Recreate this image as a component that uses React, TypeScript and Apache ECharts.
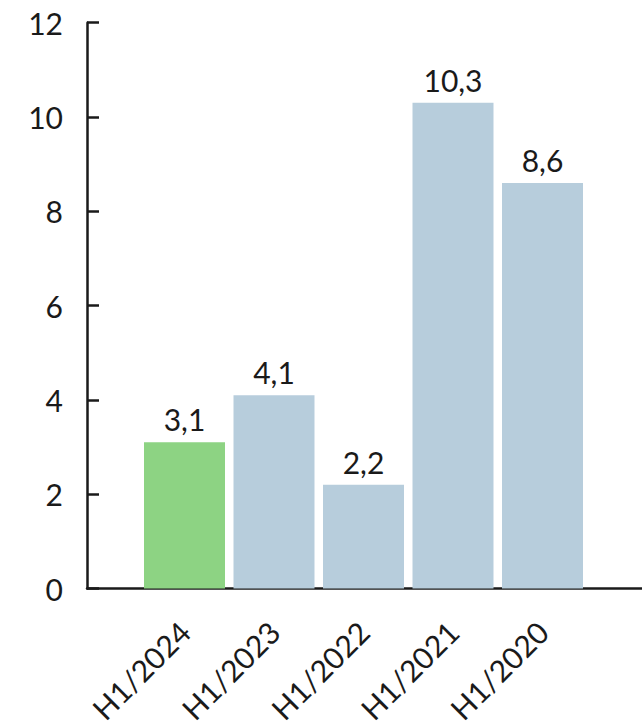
import React, { useEffect, useRef } from "react";
import * as echarts from "echarts";

// Half-year figures, newest first
const categories = ["H1/2024", "H1/2023", "H1/2022", "H1/2021", "H1/2020"];
const values = [3.1, 4.1, 2.2, 10.3, 8.6];
const barColors = ["#8dd383", "#b7cddc", "#b7cddc", "#b7cddc", "#b7cddc"];
const yTicks = { min: 0, max: 12, interval: 2 };

const FONT = "Lato, 'Noto Sans', sans-serif";
const INK = "#1a1a1a";

export default function App() {
  const ref = useRef<HTMLDivElement>(null);

  useEffect(() => {
    document.body.style.margin = "0";
    if (!ref.current) return;
    const chart = echarts.init(ref.current, null, { renderer: "svg" });

    const top = 22.7;
    const bottom = 138.5;

    chart.setOption({
      animation: false,
      backgroundColor: "#ffffff",
      grid: [
        // frame: y axis and the full-width baseline
        { left: 87, right: 0, top, bottom },
        // plotting area for the bars
        { left: 139.75, right: 54.75, top, bottom },
      ],
      xAxis: [
        {
          type: "value",
          gridIndex: 0,
          min: 0,
          max: 1,
          axisLine: { show: true, onZero: true, lineStyle: { color: INK, width: 2.5 } },
          axisTick: { show: false },
          axisLabel: { show: false },
          splitLine: { show: false },
        },
        {
          type: "category",
          gridIndex: 1,
          data: categories,
          axisLine: { show: false },
          axisTick: { show: false },
          axisLabel: {
            rotate: 45,
            margin: 38,
            fontSize: 30,
            fontFamily: FONT,
            color: INK,
            interval: 0,
          },
        },
      ],
      yAxis: [
        {
          type: "value",
          gridIndex: 0,
          ...yTicks,
          axisLine: { show: true, lineStyle: { color: INK, width: 2.5 } },
          axisTick: { show: true, inside: true, length: 12, lineStyle: { color: INK, width: 2.5 } },
          axisLabel: { margin: 24, fontSize: 30, fontFamily: FONT, color: INK },
          splitLine: { show: false },
        },
        {
          type: "value",
          gridIndex: 1,
          ...yTicks,
          show: false,
        },
      ],
      series: [
        {
          type: "bar",
          xAxisIndex: 1,
          yAxisIndex: 1,
          barCategoryGap: "9.5%",
          data: values.map((v, i) => ({ value: v, itemStyle: { color: barColors[i] } })),
          label: {
            show: true,
            position: "top",
            distance: 8,
            fontSize: 30,
            fontFamily: FONT,
            color: INK,
            formatter: (p: any) => Number(p.value).toFixed(1).replace(".", ","),
          },
        },
      ],
    });

    return () => chart.dispose();
  }, []);

  return <div ref={ref} style={{ width: 642, height: 727 }} />;
}
